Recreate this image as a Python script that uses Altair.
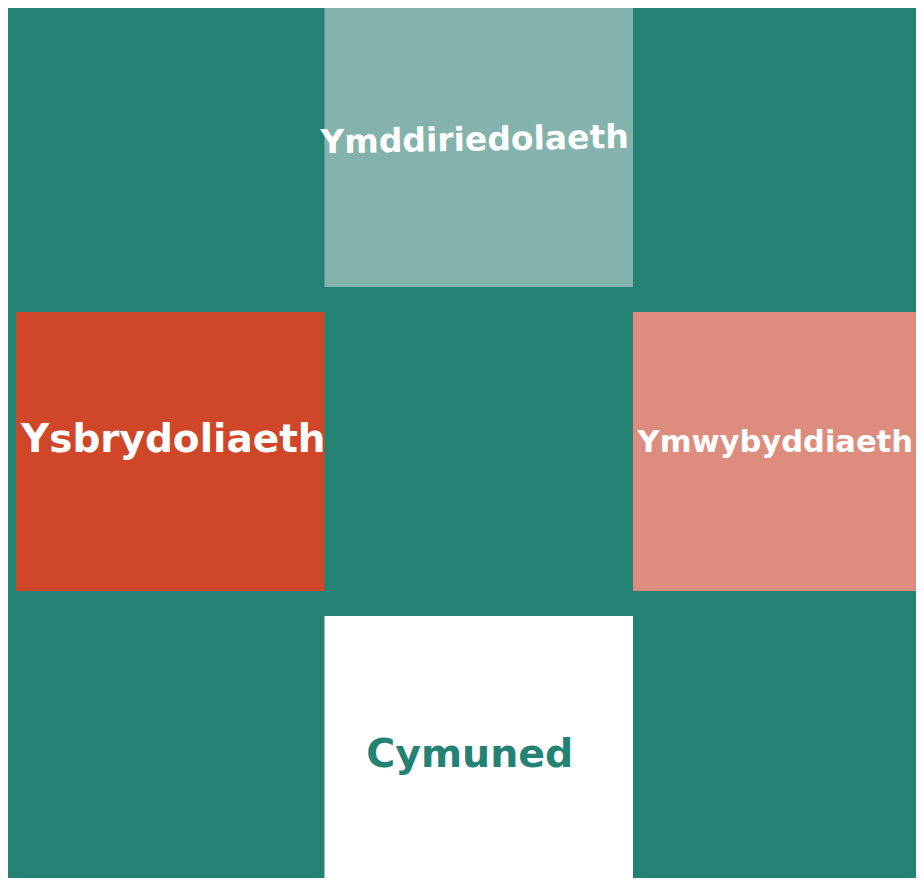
import altair as alt
import pandas as pd

labels = ["Ymddiriedolaeth", "Ysbrydoliaeth", "Ymwybyddiaeth", "Cymuned"]
cols = [1, 0, 2, 1]
rows = [0, 1, 1, 2]

box_colors = ["#83b3ac", "#cf4628", "#dd8c7d", "#ffffff"]
text_colors = ["#ffffff", "#ffffff", "#ffffff", "#248274"]
text_sizes = [33, 39, 30.5, 39.5]
# per-label text nudges (style only)
text_nudges = {
    "Ymddiriedolaeth": (-4, -7, 359),
    "Ysbrydoliaeth": (3, -12, 0),
    "Ymwybyddiaeth": (-12, -9, 0),
    "Cymuned": (-9, -1, 0),
}
BG = "#248274"

df = pd.DataFrame({"label": labels, "col": cols, "row": rows})

W, H = 908, 870
xscale = alt.Scale(domain=[-8 / 308.5, (W - 8) / 308.5], nice=False, zero=False)
yscale = alt.Scale(domain=[0, H / 304], nice=False, zero=False, reverse=True)

base = alt.Chart(df).transform_calculate(
    x0="datum.col", x1="datum.col + 1", xc="datum.col + 0.5",
    y0="datum.row", y1="datum.row + 0.918", yc="datum.row + 0.459",
)

boxes = base.mark_rect().encode(
    x=alt.X("x0:Q", scale=xscale, axis=None),
    x2="x1:Q",
    y=alt.Y("y0:Q", scale=yscale, axis=None),
    y2="y1:Q",
    color=alt.Color("label:N", scale=alt.Scale(domain=labels, range=box_colors), legend=None),
)

text_layers = []
for lab, fill, size in zip(labels, text_colors, text_sizes):
    dx, dy, ang = text_nudges[lab]
    text_layers.append(
        base.transform_filter(alt.datum.label == lab)
        .mark_text(font="DejaVu Sans", fontWeight="bold", baseline="middle", align="center",
                   dx=dx, dy=dy, angle=ang, fontSize=size, color=fill)
        .encode(
            x=alt.X("xc:Q", scale=xscale, axis=None),
            y=alt.Y("yc:Q", scale=yscale, axis=None),
            text="label:N",
        )
    )

chart = (
    alt.layer(boxes, *text_layers)
    .properties(width=W, height=H, background=BG, padding=0, autosize=alt.AutoSizeParams(type="none"))
    .configure_view(stroke=None)
)

chart.save("out.html", embed_options={"renderer": "svg", "actions": False})
